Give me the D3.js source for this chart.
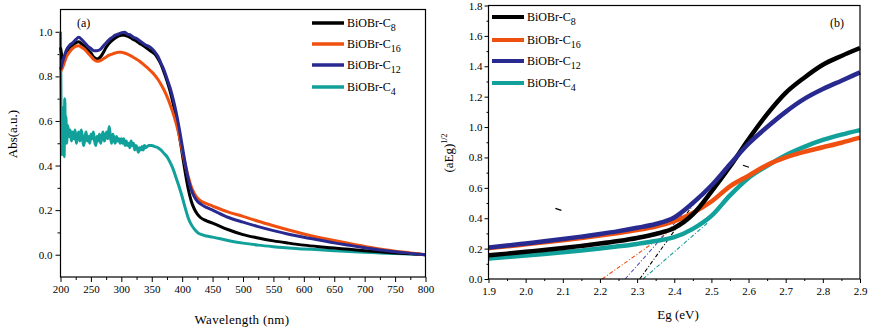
<!DOCTYPE html>
<meta charset="utf-8">
<script src="https://d3js.org/d3.v7.min.js"></script>
<style>
  body { margin: 0; background: #fff; }
  text { font-family: "Liberation Serif", "Times New Roman", serif; fill: #000; }
</style>
<body>
<div id="chart"></div>
<script>

// ---------- data: panel (a) absorbance ----------
var wl = [200,205,210,215,220,225,230,235,240,245,250,255,260,265,270,275,280,285,290,295,
  300,305,310,315,320,325,330,335,340,345,350,355,360,365,370,375,380,385,390,395,
  400,405,410,415,420,425,430,440,450,475,500,525,550,575,600,625,650,675,700,725,750,775,800];

var absC8 = [0.93,0.87,0.91,0.93,0.94,0.95,0.955,0.945,0.935,0.92,0.905,0.885,0.878,0.885,0.905,0.93,0.948,0.962,0.972,0.98,
  0.985,0.985,0.98,0.973,0.965,0.958,0.948,0.94,0.93,0.92,0.91,0.9,0.88,0.855,0.82,0.78,0.735,0.68,0.615,0.54,
  0.455,0.37,0.295,0.24,0.205,0.182,0.167,0.152,0.142,0.113,0.09,0.075,0.062,0.052,0.043,0.036,0.03,0.024,0.018,0.013,0.008,0.004,0];

var absC16 = [0.82,0.85,0.89,0.91,0.925,0.935,0.937,0.93,0.92,0.905,0.89,0.875,0.868,0.87,0.878,0.887,0.895,0.9,0.905,0.908,
  0.908,0.905,0.9,0.893,0.885,0.877,0.868,0.857,0.845,0.833,0.82,0.805,0.787,0.765,0.74,0.71,0.675,0.635,0.59,0.535,
  0.47,0.405,0.35,0.305,0.275,0.255,0.242,0.229,0.218,0.192,0.172,0.15,0.13,0.111,0.093,0.077,0.064,0.05,0.037,0.026,0.016,0.008,0];

var absC12 = [0.83,0.88,0.92,0.94,0.95,0.965,0.975,0.965,0.95,0.935,0.925,0.915,0.915,0.92,0.935,0.95,0.965,0.975,0.985,0.99,
  0.995,0.998,0.99,0.985,0.975,0.97,0.96,0.95,0.94,0.935,0.925,0.91,0.89,0.86,0.83,0.79,0.75,0.70,0.64,0.57,
  0.49,0.41,0.34,0.29,0.26,0.24,0.228,0.212,0.2,0.168,0.146,0.126,0.108,0.092,0.078,0.066,0.053,0.042,0.031,0.021,0.013,0.006,0];

var wlC4 = [200,201,202,203,204,205,206,207,208,209,210,212,214,216,218,220,222,224,226,228,
  230,232,234,236,238,240,242,244,246,248,250,252,254,256,258,260,262,264,266,268,
  270,272,274,276,278,280,282,284,286,288,290,292,294,296,298,300,302,304,306,308,
  310,312,314,316,318,320,322,324,326,328,330,332,334,336,338,340,345,350,355,360,
  365,370,375,380,385,390,395,400,405,410,415,420,425,430,440,450,475,500,525,550,
  575,600,625,650,675,700,725,750,775,800];

var absC4 = [1.00,0.62,0.45,0.66,0.48,0.60,0.44,0.70,0.56,0.62,0.50,0.58,0.53,0.56,0.51,0.55,0.52,0.56,0.50,0.53,
  0.55,0.51,0.56,0.53,0.49,0.52,0.55,0.51,0.53,0.50,0.54,0.52,0.55,0.51,0.49,0.53,0.51,0.54,0.50,0.53,
  0.55,0.51,0.53,0.55,0.52,0.575,0.53,0.50,0.54,0.52,0.50,0.53,0.51,0.52,0.50,0.52,0.50,0.52,0.49,0.51,
  0.49,0.50,0.48,0.51,0.49,0.50,0.47,0.49,0.48,0.46,0.48,0.47,0.485,0.47,0.49,0.48,0.49,0.49,0.485,0.48,
  0.47,0.455,0.44,0.415,0.385,0.345,0.305,0.26,0.21,0.165,0.135,0.115,0.1,0.092,0.084,0.079,0.064,0.052,0.043,0.036,
  0.03,0.026,0.022,0.018,0.014,0.011,0.008,0.005,0.003,0];

// ---------- data: panel (b) Tauc plot ----------
var eg = [1.9,1.95,2.0,2.05,2.1,2.15,2.2,2.25,2.3,2.35,2.4,2.45,2.5,2.55,2.6,2.65,2.7,2.75,2.8,2.85,2.9];
var taucC8  = [0.156,0.167,0.179,0.191,0.204,0.218,0.233,0.25,0.27,0.296,0.335,0.425,0.575,0.74,0.92,1.085,1.225,1.325,1.41,1.468,1.52];
var taucC16 = [0.203,0.215,0.228,0.241,0.255,0.27,0.286,0.303,0.322,0.345,0.38,0.435,0.51,0.61,0.68,0.75,0.80,0.837,0.867,0.897,0.93];
var taucC12 = [0.207,0.22,0.234,0.248,0.263,0.279,0.296,0.315,0.337,0.362,0.405,0.50,0.615,0.755,0.89,1.0,1.1,1.185,1.25,1.305,1.36];
var taucC4  = [0.134,0.144,0.155,0.165,0.176,0.188,0.201,0.215,0.231,0.25,0.275,0.33,0.415,0.55,0.665,0.745,0.815,0.87,0.915,0.95,0.98];

// tangent (extrapolation) lines: start at y = 0, end point
var tanE0 = [2.307, 2.206, 2.268, 2.316];
var tanE1 = [2.46, 2.46, 2.42, 2.49];
var tanV1 = [0.52, 0.44, 0.42, 0.37];

var names = ["C8", "C16", "C12", "C4"];
var colors = ["#000000", "#f0500f", "#282a90", "#12a09a"];
var tanColors = ["#000000", "#f0500f", "#5a4fc8", "#12a09a"];

var xTicksA = d3.range(200, 801, 50);
var yTicksA = [0, 0.2, 0.4, 0.6, 0.8, 1.0];
var xTicksB = d3.range(19, 30).map(function (d) { return d / 10; });
var yTicksB = d3.range(0, 19, 2).map(function (d) { return d / 10; });

// ---------- svg ----------
var svg = d3.select("#chart").append("svg")
  .attr("width", 871).attr("height", 335);
svg.append("rect").attr("width", 871).attr("height", 335).attr("fill", "#fff");

function frame(g, x, y) {
  var r = x.range(), s = y.range();
  g.append("rect")
    .attr("x", r[0]).attr("y", s[1])
    .attr("width", r[1] - r[0]).attr("height", s[0] - s[1])
    .attr("fill", "none").attr("stroke", "#000").attr("stroke-width", 1.2);
}

function styleAxis(a) {
  a.select(".domain").remove();
  a.selectAll("line").attr("stroke", "#000");
  a.selectAll("text").style("font-family", "Liberation Serif, Times New Roman, serif").style("font-size", "11px");
}

function legendRow(g, x0, x1, y, col, sub, w) {
  g.append("line").attr("x1", x0).attr("x2", x1).attr("y1", y).attr("y2", y)
    .attr("stroke", col).attr("stroke-width", w);
  var t = g.append("text").attr("x", x1 + 3).attr("y", y + 4).style("font-size", "12px");
  t.append("tspan").text("BiOBr-C");
  t.append("tspan").attr("dy", 4).style("font-size", "10px").text(sub);
}

// ========== panel (a) ==========
var xa = d3.scaleLinear().domain([200, 800]).range([60.5, 425.5]);
var ya = d3.scaleLinear().domain([-0.1, 1.1]).range([277, 9.5]);
var ga = svg.append("g");

ga.append("g").attr("transform", "translate(0,277)")
  .call(d3.axisBottom(xa).tickValues(xTicksA).tickFormat(d3.format("d")).tickSize(5).tickPadding(3))
  .call(styleAxis);
ga.append("g").attr("transform", "translate(0,277)")
  .call(d3.axisBottom(xa).tickValues(d3.range(225, 800, 50)).tickFormat("").tickSize(3))
  .call(styleAxis);
ga.append("g").attr("transform", "translate(60.5,0)")
  .call(d3.axisLeft(ya).tickValues(yTicksA).tickFormat(d3.format(".1f")).tickSize(5).tickPadding(3))
  .call(styleAxis);
ga.append("g").attr("transform", "translate(60.5,0)")
  .call(d3.axisLeft(ya).tickValues([0.1, 0.3, 0.5, 0.7, 0.9]).tickFormat("").tickSize(3))
  .call(styleAxis);

var lineA = d3.line()
  .x(function (d) { return xa(d[0]); })
  .y(function (d) { return ya(d[1]); })
  .curve(d3.curveMonotoneX);

var seriesA = [
  { wl: wl, v: absC8, c: colors[0] },
  { wl: wl, v: absC12, c: colors[2] },
  { wl: wl, v: absC16, c: colors[1] },
  { wl: wlC4, v: absC4, c: colors[3] }
];
// draw order: C4, C8, C16, C12 on top in the shoulder region
[3, 0, 2, 1].forEach(function (i) {
  var s = seriesA[i];
  ga.append("path")
    .datum(s.wl.map(function (w, k) { return [w, s.v[k]]; }))
    .attr("d", lineA)
    .attr("fill", "none").attr("stroke", s.c).attr("stroke-width", 3)
    .attr("stroke-linejoin", "round");
});

frame(ga, xa, ya);

ga.append("text").attr("x", 242).attr("y", 324).attr("text-anchor", "middle")
  .style("font-size", "13px").style("letter-spacing", "0.3px").text("Wavelength (nm)");
ga.append("text").attr("transform", "translate(17,134) rotate(-90)").attr("text-anchor", "middle")
  .style("font-size", "13px").text("Abs(a.u.)");
ga.append("text").attr("x", 77).attr("y", 27).style("font-size", "12px").text("(a)");

var subs = ["8", "16", "12", "4"];
[23, 44, 65, 87].forEach(function (y, i) {
  legendRow(ga, 312, 344, y, colors[i], subs[i], 3.5);
});

// ========== panel (b) ==========
var xb = d3.scaleLinear().domain([1.9, 2.9]).range([488.5, 860]);
var yb = d3.scaleLinear().domain([0, 1.8]).range([279, 5.5]);
var gb = svg.append("g");

gb.append("g").attr("transform", "translate(0,279)")
  .call(d3.axisBottom(xb).tickValues(xTicksB).tickFormat(d3.format(".1f")).tickSize(4).tickPadding(4))
  .call(styleAxis);
gb.append("g").attr("transform", "translate(0,279)")
  .call(d3.axisBottom(xb).tickValues(d3.range(195, 290, 10).map(function (d) { return d / 100; })).tickFormat("").tickSize(2))
  .call(styleAxis);
gb.append("g").attr("transform", "translate(488.5,0)")
  .call(d3.axisLeft(yb).tickValues(yTicksB).tickFormat(d3.format(".1f")).tickSize(4).tickPadding(2))
  .call(styleAxis);
gb.append("g").attr("transform", "translate(488.5,0)")
  .call(d3.axisLeft(yb).tickValues(d3.range(1, 18, 2).map(function (d) { return d / 10; })).tickFormat("").tickSize(2))
  .call(styleAxis);

// tangent lines
tanE0.forEach(function (e0, i) {
  gb.append("line")
    .attr("x1", xb(e0)).attr("y1", yb(0))
    .attr("x2", xb(tanE1[i])).attr("y2", yb(tanV1[i]))
    .attr("stroke", tanColors[i]).attr("stroke-width", 1.1)
    .attr("stroke-dasharray", "4,2,1,2");
});

var lineB = d3.line()
  .x(function (d) { return xb(d[0]); })
  .y(function (d) { return yb(d[1]); })
  .curve(d3.curveMonotoneX);

var seriesB = [taucC8, taucC16, taucC12, taucC4];
[3, 1, 0, 2].forEach(function (i) {
  gb.append("path")
    .datum(eg.map(function (e, k) { return [e, seriesB[i][k]]; }))
    .attr("d", lineB)
    .attr("fill", "none").attr("stroke", colors[i]).attr("stroke-width", 4.5)
    .attr("stroke-linejoin", "round");
});

// small stray marks seen in the original figure
var markE = [2.08, 2.585];
var markV = [0.458, 0.742];
markE.forEach(function (e, i) {
  gb.append("line")
    .attr("x1", xb(e)).attr("y1", yb(markV[i]) - 1)
    .attr("x2", xb(e) + 6).attr("y2", yb(markV[i]) + 1)
    .attr("stroke", "#000").attr("stroke-width", 1.3);
});

frame(gb, xb, yb);

gb.append("text").attr("x", 678).attr("y", 319).attr("text-anchor", "middle")
  .style("font-size", "13px").text("Eg (eV)");
var yl = gb.append("text").attr("transform", "translate(453,153) rotate(-90)").attr("text-anchor", "middle")
  .style("font-size", "13px");
yl.append("tspan").text("(aEg)");
yl.append("tspan").attr("dy", -6).style("font-size", "8px").text("1/2");
gb.append("text").attr("x", 830).attr("y", 27).style("font-size", "12px").text("(b)");

[17, 40, 61, 83].forEach(function (y, i) {
  legendRow(gb, 492, 524, y, colors[i], subs[i], 4);
});

</script>
</body>
